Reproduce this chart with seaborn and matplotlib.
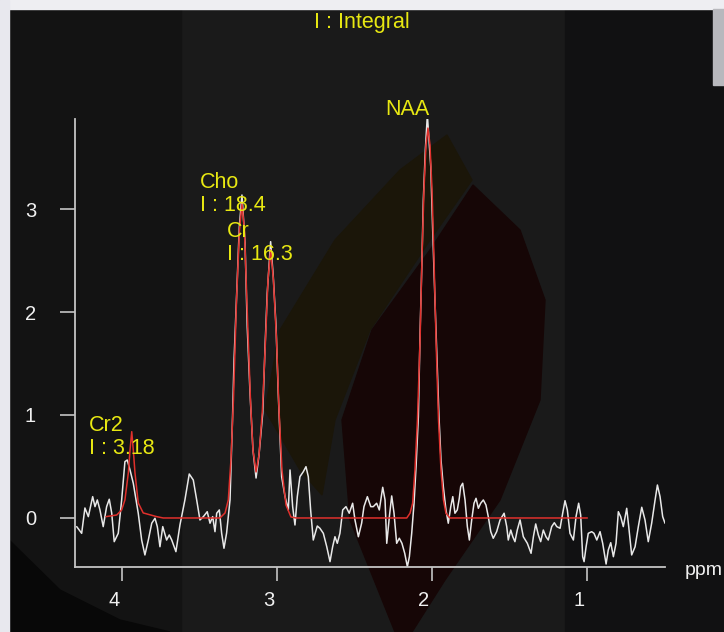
import matplotlib
matplotlib.use('Agg')
import pandas as pd
import seaborn as sns
from matplotlib import pyplot as plt
from matplotlib.patches import Polygon, Rectangle
from matplotlib.transforms import Affine2D, ScaledTranslation

# ---- data ----
# measured spectrum (white trace)
ppm_obs = [4.292, 4.260, 4.239, 4.217, 4.189, 4.174, 4.159, 4.142, 4.121, 4.099,
           4.082, 4.066, 4.050, 4.024, 4.002, 3.981, 3.966, 3.948, 3.927, 3.895,
           3.873, 3.852, 3.830, 3.808, 3.787, 3.772, 3.755, 3.737, 3.712, 3.695,
           3.679, 3.652, 3.626, 3.594, 3.566, 3.540, 3.518, 3.497, 3.475, 3.450,
           3.432, 3.415, 3.400, 3.389, 3.372, 3.357, 3.342, 3.325, 3.303, 3.286,
           3.277, 3.260, 3.243, 3.226, 3.206, 3.192, 3.174, 3.155, 3.135, 3.116,
           3.092, 3.077, 3.063, 3.041, 3.024, 3.006, 2.992, 2.970, 2.948, 2.927,
           2.916, 2.899, 2.884, 2.869, 2.852, 2.830, 2.813, 2.798, 2.783, 2.766,
           2.740, 2.723, 2.701, 2.679, 2.658, 2.641, 2.626, 2.611, 2.594, 2.576,
           2.555, 2.534, 2.512, 2.497, 2.475, 2.454, 2.439, 2.417, 2.395, 2.379,
           2.357, 2.340, 2.318, 2.303, 2.292, 2.275, 2.260, 2.245, 2.228, 2.211,
           2.194, 2.176, 2.159, 2.146, 2.131, 2.116, 2.103, 2.088, 2.077, 2.066,
           2.056, 2.043, 2.030, 2.008, 1.995, 1.981, 1.966, 1.955, 1.942, 1.927,
           1.910, 1.895, 1.879, 1.866, 1.852, 1.837, 1.824, 1.815, 1.802, 1.787,
           1.772, 1.759, 1.744, 1.729, 1.716, 1.701, 1.686, 1.669, 1.652, 1.637,
           1.621, 1.605, 1.583, 1.561, 1.535, 1.518, 1.508, 1.492, 1.479, 1.465,
           1.450, 1.432, 1.411, 1.385, 1.361, 1.346, 1.331, 1.314, 1.299, 1.282,
           1.265, 1.250, 1.228, 1.211, 1.195, 1.174, 1.157, 1.142, 1.127, 1.110,
           1.088, 1.071, 1.054, 1.041, 1.028, 1.019, 1.006, 0.992, 0.970, 0.955,
           0.937, 0.916, 0.899, 0.877, 0.863, 0.847, 0.830, 0.813, 0.798, 0.783,
           0.766, 0.744, 0.731, 0.712, 0.690, 0.669, 0.647, 0.626, 0.605, 0.583,
           0.561, 0.546, 0.529, 0.512, 0.497]
int_obs = [-0.084, -0.149, 0.097, 0.013, 0.207, 0.110, 0.175, 0.078, -0.084, 0.110,
           0.182, 0.046, -0.230, -0.149, 0.175, 0.547, 0.563, 0.466, 0.337, 0.046,
           -0.214, -0.359, -0.214, -0.051, -0.003, -0.084, -0.279, -0.084, -0.214, -0.165,
           -0.214, -0.327, -0.068, 0.175, 0.427, 0.369, 0.175, -0.019, 0.013, 0.061,
           -0.051, 0.013, -0.133, 0.046, 0.078, -0.149, -0.294, -0.146, 0.175, 1.019,
           1.534, 2.184, 2.825, 3.136, 2.670, 1.857, 1.214, 0.660, 0.388, 0.612,
           1.019, 1.663, 2.184, 2.683, 2.343, 1.857, 1.214, 0.401, 0.207, 0.078,
           0.466, 0.110, -0.068, 0.207, 0.401, 0.450, 0.498, 0.401, 0.078, -0.214,
           -0.078, -0.100, -0.149, -0.279, -0.424, -0.279, -0.182, -0.246, -0.149, 0.078,
           0.110, 0.046, 0.143, -0.019, -0.182, -0.051, 0.110, 0.207, 0.110, 0.110,
           0.143, 0.078, 0.298, 0.175, -0.246, 0.013, 0.214, 0.046, -0.246, -0.197,
           -0.246, -0.343, -0.473, -0.376, -0.149, 0.143, 0.498, 0.983, 1.796, 2.440,
           3.087, 3.573, 3.913, 3.411, 2.767, 2.117, 1.469, 0.983, 0.563, 0.304,
           0.078, -0.051, 0.110, 0.207, 0.046, 0.078, 0.191, 0.304, 0.337, 0.175,
           -0.084, -0.214, -0.019, 0.143, 0.191, 0.094, 0.143, 0.175, 0.126, 0.013,
           -0.133, -0.197, -0.133, -0.019, 0.046, -0.084, -0.214, -0.117, -0.182, -0.230,
           -0.117, -0.019, -0.182, -0.246, -0.343, -0.182, -0.058, -0.165, -0.230, -0.117,
           -0.182, -0.214, -0.084, -0.046, -0.084, -0.100, 0.046, 0.168, 0.078, -0.149,
           -0.214, 0.013, 0.143, 0.029, -0.376, -0.424, -0.279, -0.149, -0.133, -0.149,
           -0.214, -0.133, -0.246, -0.447, -0.311, -0.240, -0.376, -0.246, 0.061, 0.013,
           -0.084, 0.094, -0.084, -0.359, -0.279, -0.084, 0.104, -0.019, -0.230, -0.051,
           0.175, 0.320, 0.207, 0.013, -0.051]

# fitted model (red trace)
ppm_fit = [4.103, 4.034, 4.002, 3.981, 3.959, 3.948, 3.937, 3.927, 3.916, 3.895,
           3.863, 3.776, 3.734, 3.368, 3.335, 3.314, 3.297, 3.281, 3.261, 3.242,
           3.226, 3.210, 3.190, 3.171, 3.155, 3.135, 3.116, 3.094, 3.074, 3.058,
           3.041, 3.023, 3.003, 2.987, 2.968, 2.942, 2.910, 2.877, 2.163, 2.142,
           2.125, 2.110, 2.094, 2.077, 2.065, 2.052, 2.039, 2.026, 2.013, 2.000,
           1.987, 1.974, 1.958, 1.942, 1.926, 1.910, 1.884, 0.998]
int_fit = [0.013, 0.029, 0.078, 0.175, 0.437, 0.660, 0.838, 0.660, 0.437, 0.146,
           0.049, 0.013, 0.0, 0.0, 0.049, 0.175, 0.563, 1.146, 2.117, 2.796,
           3.049, 2.796, 1.922, 1.146, 0.660, 0.447, 0.612, 1.049, 1.728, 2.311,
           2.602, 2.311, 1.728, 1.049, 0.466, 0.126, 0.010, 0.0, 0.0, 0.046,
           0.143, 0.466, 0.951, 1.728, 2.505, 3.184, 3.621, 3.786, 3.621, 3.184,
           2.505, 1.728, 0.951, 0.466, 0.175, 0.046, 0.0, 0.0]

peak_names = ['NAA', 'Cho', 'Cr', 'Cr2']
peak_integrals = ['24.0', '18.4', '16.3', '3.18']
label_ppm = [2.303, 3.497, 3.321, 4.211]
label_level = [3.913, 3.200, 2.731, 0.848]

x_ticks = [4, 3, 2, 1]
y_ticks = [0, 1, 2, 3]

obs = pd.DataFrame({'ppm': ppm_obs, 'intensity': int_obs})
fit = pd.DataFrame({'ppm': ppm_fit, 'intensity': int_fit})

YELLOW = '#e8e812'
W, H = 724, 632

sns.set_theme(style='dark')
plt.rcParams['font.family'] = ['Liberation Sans', 'DejaVu Sans']

fig = plt.figure(figsize=(W / 100, H / 100), dpi=100, facecolor='#1a1a1a')

# screenshot backdrop (pixel coordinates, y downwards), kept behind the axes
px = Affine2D().scale(1 / W, -1 / H).translate(0, 1) + fig.transFigure
backdrop = [
    Rectangle((9, 9), 172, 623, color='#131313'),
    Rectangle((565, 9), 159, 623, color='#111112'),
    Polygon([(447, 135), (472, 180), (430, 240), (370, 330), (335, 420), (322, 495),
             (300, 470), (265, 410), (280, 330), (335, 240), (400, 170)], color='#1b1609'),
    Polygon([(473, 185), (520, 230), (545, 300), (540, 400), (500, 500), (445, 580),
             (412, 632), (395, 632), (350, 520), (342, 420), (372, 330), (430, 250)],
            color='#160606'),
    Polygon([(9, 540), (60, 590), (120, 620), (170, 632), (9, 632)], color='#080808'),
    Rectangle((0, 0), W, 9, color='#eeeef2'),
    Rectangle((0, 0), 9, H, color='#e8e8ee'),
    Rectangle((713, 9), 11, 76, color='#b8b8bd'),
]
for p in backdrop:
    p.set_transform(px)
    p.set_zorder(-10)
    fig.patches.append(p)

ax = fig.add_axes([75 / W, (H - 567) / H, (665 - 75) / W, (567 - 119) / H])
ax.set_facecolor('none')
ax.set_zorder(1)

sns.lineplot(data=obs, x='ppm', y='intensity', sort=False, estimator=None,
             color='#e8e8e8', linewidth=1.1, ax=ax)
sns.lineplot(data=fit, x='ppm', y='intensity', sort=False, estimator=None,
             color='#e0302c', linewidth=1.1, ax=ax)

ax.set_xlim(4.303, 0.497)
ax.set_ylim(-0.476, 3.874)
ax.set_xticks(x_ticks)
ax.set_yticks(y_ticks)
ax.set_xlabel('')
ax.set_ylabel('')
ax.grid(False)

for side in ['top', 'right']:
    ax.spines[side].set_visible(False)
for side in ['left', 'bottom']:
    ax.spines[side].set_color('#c4c4c4')
    ax.spines[side].set_linewidth(1.3)

ax.tick_params(axis='y', length=11, width=1.2, color='#c4c4c4', pad=17,
               labelsize=14.5, labelcolor='#f0f0f0', left=True)
ax.tick_params(axis='x', length=10, width=1.2, color='#c4c4c4', pad=7,
               labelsize=14.5, labelcolor='#f0f0f0', bottom=True)
shift = ScaledTranslation(-8 / 100, 0, fig.dpi_scale_trans)
for lab in ax.get_xticklabels():
    lab.set_transform(lab.get_transform() + shift)

for name, integ, xp, yp in zip(peak_names, peak_integrals, label_ppm, label_level):
    ax.text(xp, yp, name, color=YELLOW, fontsize=15.5, ha='left', va='baseline')
    ax.annotate('I : ' + integ, (xp, yp), xytext=(0, -16.5), textcoords='offset points',
                color=YELLOW, fontsize=15.5, ha='left', va='baseline')

fig.text(0.5, 1 - 28 / H, 'I : Integral', color=YELLOW, fontsize=15.5,
         ha='center', va='baseline')
# the screenshot crops "ppm" at the right edge; keep it whole just inside
fig.text(685 / W, 1 - 575 / H, 'ppm', color='#f0f0f0', fontsize=14,
         ha='left', va='baseline')

fig.savefig('out.png', dpi=100, facecolor=fig.get_facecolor())
